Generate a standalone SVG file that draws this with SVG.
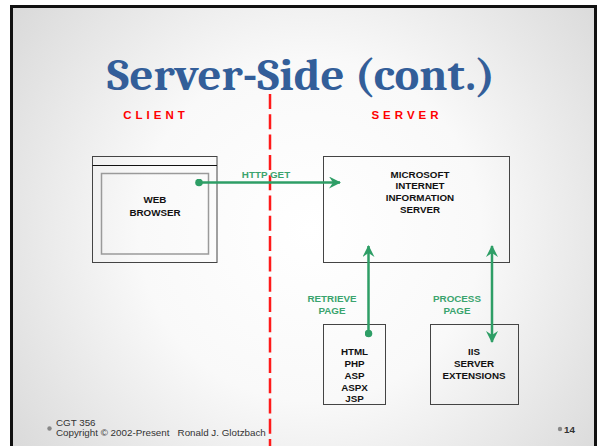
<svg xmlns="http://www.w3.org/2000/svg" width="600" height="446" viewBox="0 0 600 446">
<defs>
<radialGradient id="bg" cx="310" cy="230" r="380" gradientUnits="userSpaceOnUse">
<stop offset="0" stop-color="#ffffff"/>
<stop offset="0.45" stop-color="#f9f9f9"/>
<stop offset="1" stop-color="#d8d8d8"/>
</radialGradient>
<marker id="arr" viewBox="0 0 12 12" refX="11" refY="6" markerWidth="12" markerHeight="12" markerUnits="userSpaceOnUse" orient="auto-start-reverse">
<path d="M0,0 L12,6 L0,12 L4,6 Z" fill="#2e9e66"/>
</marker>
<marker id="dot" viewBox="0 0 8 8" refX="4" refY="4" markerWidth="8" markerHeight="8" markerUnits="userSpaceOnUse">
<circle cx="4" cy="4" r="3.8" fill="#2e9e66"/>
</marker>
</defs>
<style>
.box{fill:none;stroke:#444;stroke-width:1}
.inner{fill:none;stroke:#9a9a9a;stroke-width:1.5}
.lbl{font-family:"Liberation Sans",Arial,sans-serif;font-weight:bold;font-size:9.8px;fill:#111;text-anchor:middle}
.glbl{font-family:"Liberation Sans",Arial,sans-serif;font-weight:bold;font-size:9.8px;fill:#3aa46e;text-anchor:middle}
.conn{stroke:#2e9e66;stroke-width:2.5;fill:none}
.foot{font-family:"Liberation Sans",Arial,sans-serif;font-size:9.8px;fill:#333}
</style>
<rect x="0" y="0" width="600" height="446" fill="#ffffff"/>
<rect x="11.5" y="6.5" width="584" height="446" fill="url(#bg)" stroke="#111" stroke-width="3"/>
<text x="301" y="90" font-family="Cambria,'Liberation Serif',serif" font-weight="bold" font-size="45" fill="#335e99" text-anchor="middle" textLength="388" lengthAdjust="spacingAndGlyphs">Server-Side (cont.)</text>
<text x="156" y="119" font-family="'Liberation Sans',Arial,sans-serif" font-weight="bold" font-size="11.5" fill="#ff0000" text-anchor="middle" letter-spacing="4">CLIENT</text>
<text x="407" y="119" font-family="'Liberation Sans',Arial,sans-serif" font-weight="bold" font-size="11.5" fill="#ff0000" text-anchor="middle" letter-spacing="4">SERVER</text>
<line x1="270" y1="94" x2="270" y2="446" stroke="#ff1a1a" stroke-width="2.5" stroke-dasharray="15 5.3"/>
<g id="browser">
<rect class="box" x="92.5" y="156.5" width="124.5" height="106"/>
<line x1="92.5" y1="165.5" x2="217" y2="165.5" stroke="#111" stroke-width="1.2"/>
<rect class="inner" x="101.5" y="173.5" width="107" height="80.5"/>
<text class="lbl" x="155" y="203">WEB</text>
<text class="lbl" x="155" y="215.5">BROWSER</text>
</g>
<g id="iis">
<rect class="box" x="323.5" y="156.5" width="186" height="106"/>
<text class="lbl" x="420" y="177.5">MICROSOFT</text>
<text class="lbl" x="420" y="189">INTERNET</text>
<text class="lbl" x="420" y="201">INFORMATION</text>
<text class="lbl" x="420" y="213">SERVER</text>
</g>
<g id="pages">
<rect class="box" x="323.5" y="324.5" width="62" height="80"/>
<text class="lbl" x="354.5" y="354.5">HTML</text>
<text class="lbl" x="354.5" y="366.5">PHP</text>
<text class="lbl" x="354.5" y="378.5">ASP</text>
<text class="lbl" x="354.5" y="390.5">ASPX</text>
<text class="lbl" x="354.5" y="401.5">JSP</text>
</g>
<g id="extensions">
<rect class="box" x="430.5" y="324.5" width="88" height="80"/>
<text class="lbl" x="474" y="354.5">IIS</text>
<text class="lbl" x="474" y="366.5">SERVER</text>
<text class="lbl" x="474" y="378.5">EXTENSIONS</text>
</g>
<g id="connectors">
<line class="conn" x1="199" y1="182.5" x2="340" y2="182.5" marker-start="url(#dot)" marker-end="url(#arr)"/>
<text class="glbl" x="266" y="177.5">HTTP GET</text>
<line class="conn" x1="368.5" y1="333.5" x2="368.5" y2="246" marker-start="url(#dot)" marker-end="url(#arr)"/>
<text class="glbl" x="332" y="301.5">RETRIEVE</text>
<text class="glbl" x="332" y="313.5">PAGE</text>
<line class="conn" x1="492" y1="246" x2="492" y2="342" marker-start="url(#arr)" marker-end="url(#arr)"/>
<text class="glbl" x="457" y="301.5">PROCESS</text>
<text class="glbl" x="457" y="313.5">PAGE</text>
</g>
<g id="footer">
<circle cx="49.5" cy="428.5" r="2.2" fill="#888"/>
<text class="foot" x="56" y="426">CGT 356</text>
<text class="foot" x="56" y="436" xml:space="preserve">Copyright © 2002-Present   Ronald J. Glotzbach</text>
<circle cx="560" cy="429" r="2.2" fill="#888"/>
<text class="foot" x="564" y="432.5" font-size="10.5" font-weight="bold" fill="#444">14</text>
</g>
</svg>
